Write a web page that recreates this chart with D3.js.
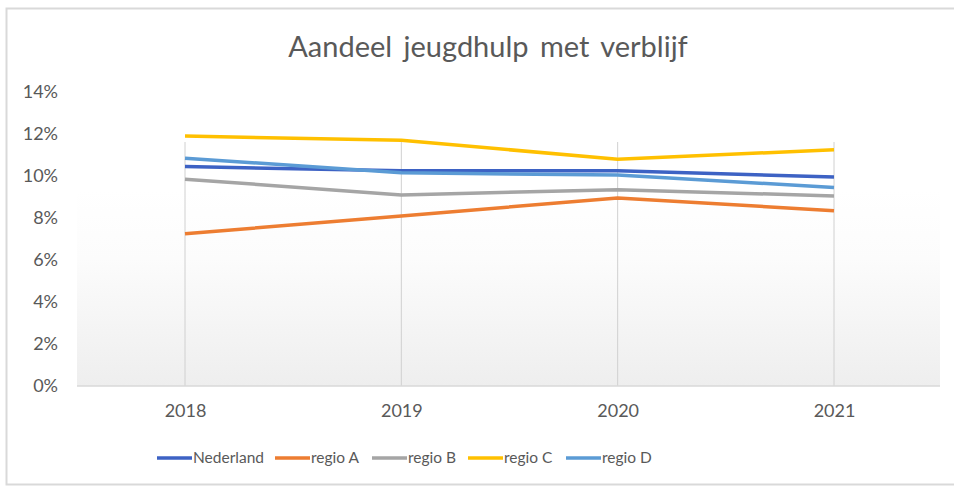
<!DOCTYPE html>
<html>
<head>
<meta charset="utf-8">
<script src="https://cdn.jsdelivr.net/npm/d3@7"></script>
<style>
  body { margin: 0; background: #fff; }
  text { font-family: Lato, "Open Sans", sans-serif; fill: #595959; }
</style>
</head>
<body>
<div id="chart"></div>
<script>
// data (shares, in %)
const years = ["2018", "2019", "2020", "2021"];
const seriesNames = ["Nederland", "regio A", "regio B", "regio C", "regio D"];
const nederland = [10.45, 10.25, 10.25, 9.95];
const regioA = [7.25, 8.1, 8.95, 8.35];
const regioB = [9.85, 9.1, 9.35, 9.05];
const regioC = [11.9, 11.7, 10.8, 11.25];
const regioD = [10.85, 10.15, 10.05, 9.45];
const yTicks = [0, 2, 4, 6, 8, 10, 12, 14];
const colors = ["#3d62c4", "#ed7d31", "#a5a5a5", "#ffc000", "#5b9bd5"];

const values = [nederland, regioA, regioB, regioC, regioD];

const width = 954, height = 487;
const margin = {left: 77, right: 14, top: 92, bottom: 101};

var svg = d3.select("#chart").append("svg")
  .attr("width", width)
  .attr("height", height);

var defs = svg.append("defs");
var grad = defs.append("linearGradient")
  .attr("id", "bg").attr("x1", 0).attr("y1", 0).attr("x2", 0).attr("y2", 1);
grad.append("stop").attr("offset", "0%").attr("stop-color", "#ffffff");
grad.append("stop").attr("offset", "35%").attr("stop-color", "#fcfcfc");
grad.append("stop").attr("offset", "100%").attr("stop-color", "#eeeeee");

// chart border
svg.append("rect")
  .attr("x", 6.5).attr("y", 8.5)
  .attr("width", width + 10).attr("height", 476)
  .attr("fill", "#fff")
  .attr("stroke", "#d9d9d9").attr("stroke-width", 2);

var x = d3.scalePoint()
  .domain(years)
  .range([185, 834]);

var y = d3.scaleLinear()
  .domain([0, 14])
  .range([height - margin.bottom, margin.top]);

// plot area background
svg.append("rect")
  .attr("x", margin.left).attr("y", 190)
  .attr("width", width - margin.left - margin.right)
  .attr("height", y(0) - 190)
  .attr("fill", "url(#bg)");

/* vertical gridlines at each category */
svg.append("g")
  .selectAll("line")
  .data(years)
  .enter().append("line")
  .attr("x1", d => x(d)).attr("x2", d => x(d))
  .attr("y1", y(14) + 50).attr("y2", y(0))
  .attr("stroke", "#d0d0d0").attr("stroke-width", 1);

// y axis
var yAxis = svg.append("g")
  .attr("transform", "translate(" + 58 + ",0)")
  .call(d3.axisLeft(y).tickValues(yTicks).tickSize(0).tickPadding(0).tickFormat(d => d + "%"));
yAxis.select(".domain").remove();
yAxis.selectAll("text").style("font-size", "18px").attr("fill", "#595959");

// x axis baseline + labels
svg.append("line")
  .attr("x1", margin.left).attr("x2", width - margin.right)
  .attr("y1", y(0)).attr("y2", y(0))
  .attr("stroke", "#d9d9d9").attr("stroke-width", 1.5);

var xAxis = svg.append("g")
  .attr("transform", "translate(0," + y(0) + ")")
  .call(d3.axisBottom(x).tickSize(0).tickPadding(18));
xAxis.select(".domain").remove();
xAxis.selectAll("text").style("font-size", "18px").attr("fill", "#595959");

// lines
var line = d3.line()
  .x((d, i) => x(years[i]))
  .y(d => y(d));

svg.append("g")
  .selectAll("path")
  .data(values)
  .enter().append("path")
  .attr("d", line)
  .attr("fill", "none")
  .attr("stroke", (d, i) => colors[i])
  .attr("stroke-width", 3.5)
  .attr("stroke-linejoin", "round");

// title
svg.append("text")
  .attr("x", 488).attr("y", 57)
  .attr("text-anchor", "middle")
  .style("font-size", "29px")
  .style("word-spacing", "4px")
  .attr("fill", "#595959")
  .text("Aandeel jeugdhulp met verblijf");

// legend
var legendX = [157, 275, 372, 468, 566];
var legend = svg.append("g")
  .selectAll("g")
  .data(seriesNames)
  .enter().append("g")
  .attr("transform", (d, i) => "translate(" + legendX[i] + ",458)");
legend.append("line")
  .attr("x1", 0).attr("x2", 35)
  .attr("stroke", (d, i) => colors[i])
  .attr("stroke-width", 3.5);
legend.append("text")
  .attr("x", 36).attr("dy", "0.35em")
  .style("font-size", "15.5px")
  .attr("fill", "#595959")
  .text(d => d);
</script>
</body>
</html>
